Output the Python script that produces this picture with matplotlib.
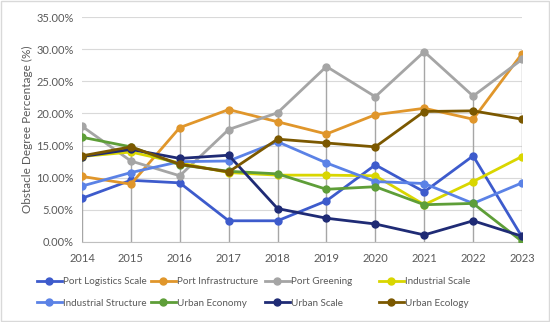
import matplotlib
matplotlib.use("Agg")
import matplotlib.pyplot as plt
from matplotlib.ticker import FuncFormatter
from matplotlib.patches import Rectangle

plt.rcParams['font.family'] = ['Lato', 'DejaVu Sans']

years = [2014, 2015, 2016, 2017, 2018, 2019, 2020, 2021, 2022, 2023]

port_logistics_scale = [6.8, 9.6, 9.2, 3.3, 3.3, 6.4, 12.0, 7.8, 13.4, 0.8]
port_infrastructure = [10.2, 9.0, 17.8, 20.6, 18.7, 16.8, 19.8, 20.8, 19.1, 29.3]
port_greening = [18.0, 12.6, 10.3, 17.5, 20.1, 27.3, 22.6, 29.6, 22.7, 28.4]
industrial_scale = [13.3, 14.0, 12.3, 10.8, 10.4, 10.4, 10.3, 5.8, 9.4, 13.3]
industrial_structure = [8.7, 10.8, 12.5, 12.6, 15.6, 12.3, 9.4, 9.1, 6.0, 9.2]
urban_economy = [16.3, 14.8, 12.0, 11.0, 10.6, 8.2, 8.6, 5.8, 6.0, 0.1]
urban_scale = [13.3, 14.4, 13.0, 13.5, 5.2, 3.7, 2.8, 1.1, 3.3, 0.9]
urban_ecology = [13.4, 14.8, 12.1, 10.9, 16.0, 15.4, 14.8, 20.3, 20.4, 19.1]

series_names = ["Port Logistics Scale", "Port Infrastructure", "Port Greening",
                "Industrial Scale", "Industrial Structure", "Urban Economy",
                "Urban Scale", "Urban Ecology"]
series_values = [port_logistics_scale, port_infrastructure, port_greening,
                 industrial_scale, industrial_structure, urban_economy,
                 urban_scale, urban_ecology]
colors = ["#3D5BCC", "#E0962B", "#A5A5A5", "#D9D600", "#5B82E6", "#5E9E38",
          "#1F2B75", "#7B5800"]

W, H = 550, 322
fig = plt.figure(figsize=(W / 100, H / 100), dpi=100)
fig.patches.append(Rectangle((0.002, 0.003), 0.996, 0.994, transform=fig.transFigure,
                             fill=False, edgecolor="#D9D9D9", linewidth=1.0))
ax = fig.add_axes([82 / W, 80 / H, 440 / W, 225 / H])

# drop lines
for i, yr in enumerate(years):
    top = max(v[i] for v in series_values)
    ax.vlines(yr, 0, top, color="#A6A6A6", linewidth=1.0, zorder=1)

handles = []
for name, vals, c in zip(series_names, series_values, colors):
    h, = ax.plot(years, vals, color=c, linewidth=2.0, marker="o", markersize=5,
                 label=name, zorder=3)
    handles.append(h)

ax.set_xlim(2014, 2023)
ax.set_ylim(0, 35)
ax.set_yticks([0, 5, 10, 15, 20, 25, 30, 35])
ax.yaxis.set_major_formatter(FuncFormatter(lambda v, p: f"{v:.2f}%"))
ax.set_xticks(years)
ax.grid(axis="y", color="#D9D9D9", linewidth=0.8, zorder=0)
ax.set_axisbelow(True)
for s in ["top", "right", "left"]:
    ax.spines[s].set_visible(False)
ax.spines["bottom"].set_color("#BFBFBF")
ax.tick_params(axis="both", length=0, labelsize=8, colors="#595959", pad=6)
ax.tick_params(axis="x", pad=8)
ax.set_ylabel("Obstacle Degree Percentage (%)", fontsize=8.5, color="#595959")
ax.yaxis.set_label_coords(-0.112, 0.5)

# legend: row-wise, fixed column positions
col_x = [37, 151, 265, 379]
row_y = [282, 303]
for i, (h, name) in enumerate(zip(handles, series_names)):
    r, c = divmod(i, 4)
    leg = fig.legend([h], [name], loc="center left",
                     bbox_to_anchor=(col_x[c] / W, 1 - row_y[r] / H),
                     frameon=False, fontsize=7.1, handlelength=2.5,
                     handletextpad=0.15, borderpad=0, borderaxespad=0)
    for t in leg.get_texts():
        t.set_color("#595959")

fig.savefig("out.png", dpi=100)
